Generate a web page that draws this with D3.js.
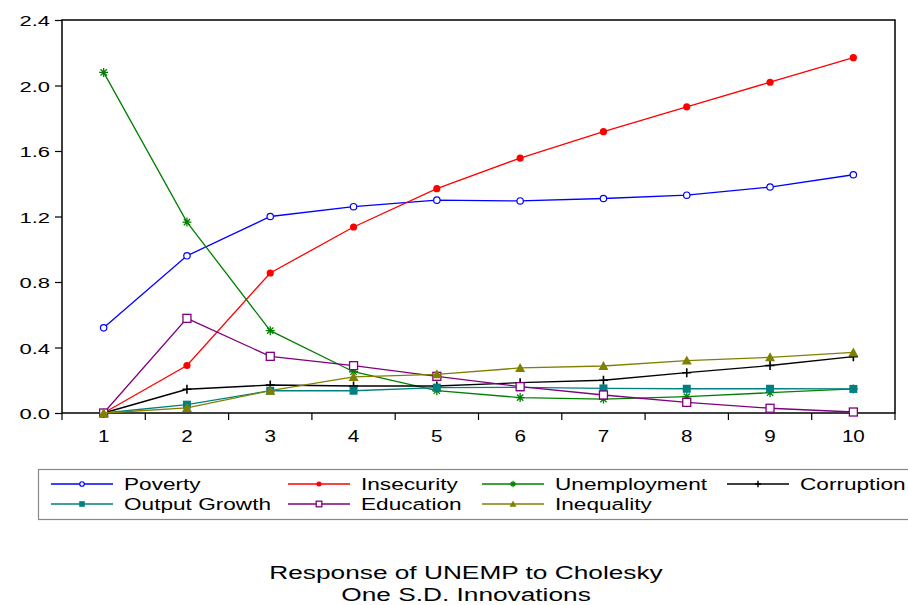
<!DOCTYPE html>
<html><head><meta charset="utf-8">
<script src="https://cdn.jsdelivr.net/npm/d3@7"></script>
<style>body{margin:0;background:#fff}svg{display:block}text{font-family:"Liberation Sans",Arial,sans-serif}</style>
</head><body><svg id="c" width="908" height="605"></svg>
<script>
const periods = [1,2,3,4,5,6,7,8,9,10];
const yTicks = [0,0.4,0.8,1.2,1.6,2.0,2.4];
const poverty      = [0.52,0.96,1.20,1.26,1.30,1.295,1.31,1.33,1.38,1.455];
const insecurity   = [0.0,0.29,0.855,1.136,1.37,1.557,1.718,1.87,2.02,2.17];
const unemployment = [2.08,1.166,0.503,0.252,0.136,0.094,0.085,0.10,0.124,0.147];
const corruption   = [0.0,0.145,0.171,0.165,0.165,0.185,0.20,0.246,0.29,0.344];
const outputGrowth = [0.0,0.051,0.136,0.136,0.155,0.157,0.15,0.148,0.148,0.147];
const education    = [0.0,0.578,0.346,0.289,0.224,0.161,0.11,0.065,0.029,0.006];
const inequality   = [0.0,0.031,0.136,0.22,0.236,0.275,0.287,0.32,0.34,0.37];
const titleLines = ["Response of UNEMP to Cholesky","One S.D. Innovations"];

const series = [
  {name:"Poverty", values:poverty, color:"#0000ff", marker:"circleOpen"},
  {name:"Insecurity", values:insecurity, color:"#ff0000", marker:"circleFill"},
  {name:"Unemployment", values:unemployment, color:"#008000", marker:"star"},
  {name:"Corruption", values:corruption, color:"#000000", marker:"plus"},
  {name:"Output Growth", values:outputGrowth, color:"#008080", marker:"squareFill"},
  {name:"Education", values:education, color:"#800080", marker:"squareOpen"},
  {name:"Inequality", values:inequality, color:"#808000", marker:"triangle"}
];

const svg = d3.select("#c");
const L=62, R=895, T=20, B=413;
const x = d3.scaleBand().domain(periods).range([L,R]);
const y = d3.scaleLinear().domain([0,2.4]).range([B,T]);
const cx = d => x(d)+x.bandwidth()/2;

// horizontally stretched text (reference glyphs are wide)
function stretch(sel, sx){
  sel.each(function(){
    const t=d3.select(this);
    const tx=+t.attr("x")||0, ty=+t.attr("y")||0;
    t.attr("x",0).attr("y",0).attr("transform",`translate(${tx},${ty}) scale(${sx},1)`);
  });
}

// frame
svg.append("rect").attr("x",L).attr("y",T).attr("width",R-L).attr("height",B-T)
  .attr("fill","none").attr("stroke","#000").attr("stroke-width",1.5);

// y axis
const yAx = svg.append("g").attr("transform",`translate(${L},0)`)
  .call(d3.axisLeft(y).tickValues(yTicks).tickFormat(d3.format(".1f")).tickSize(7).tickPadding(5));
yAx.select(".domain").remove();
yAx.selectAll("text").attr("font-size",15.5).attr("fill","#000").attr("dy","0.36em");
stretch(yAx.selectAll("text"),1.42);
yAx.selectAll("line").attr("stroke","#000").attr("stroke-width",1.2);

// x axis: ticks at band boundaries, labels at centers
const bounds = periods.map(p=>x(p)).concat([R]);
svg.append("g").selectAll("line").data(bounds).join("line")
  .attr("x1",d=>d).attr("x2",d=>d).attr("y1",B).attr("y2",B+7)
  .attr("stroke","#000").attr("stroke-width",1.2);
stretch(svg.append("g").selectAll("text").data(periods).join("text")
  .attr("x",d=>cx(d)).attr("y",B+29).attr("text-anchor","middle")
  .attr("font-size",16.5).text(d=>d), 1.25);

function drawMarker(g, type, color, px, py, s){
  switch(type){
    case "circleOpen": g.append("circle").attr("cx",px).attr("cy",py).attr("r",3.2*s).attr("fill","#fff").attr("stroke",color).attr("stroke-width",1.2); break;
    case "circleFill": g.append("circle").attr("cx",px).attr("cy",py).attr("r",3.6*s).attr("fill",color); break;
    case "star": {
      const r=4.5*s;
      const p = `M${px-r},${py}H${px+r}M${px},${py-r}V${py+r}M${px-r*0.7},${py-r*0.7}L${px+r*0.7},${py+r*0.7}M${px-r*0.7},${py+r*0.7}L${px+r*0.7},${py-r*0.7}`;
      g.append("path").attr("d",p).attr("stroke",color).attr("stroke-width",1.3*Math.min(1,s+0.2)).attr("fill","none"); break;}
    case "plus": {
      const r=4.5*s;
      g.append("path").attr("d",`M${px-r},${py}H${px+r}M${px},${py-r}V${py+r}`).attr("stroke",color).attr("stroke-width",1.6*Math.min(1,s+0.2)).attr("fill","none"); break;}
    case "squareFill": { const h=4*s; g.append("rect").attr("x",px-h).attr("y",py-h).attr("width",2*h).attr("height",2*h).attr("fill",color); break;}
    case "squareOpen": { const h=4*s; g.append("rect").attr("x",px-h).attr("y",py-h).attr("width",2*h).attr("height",2*h).attr("fill","#fff").attr("stroke",color).attr("stroke-width",1.3); break;}
    case "triangle": { const h=5*s; g.append("path").attr("d",`M${px},${py-h}L${px+h},${py+h*0.8}L${px-h},${py+h*0.8}Z`).attr("fill",color); break;}
  }
}

const line = d3.line().x((d,i)=>cx(periods[i])).y(d=>y(d));
series.forEach(s=>{
  const g = svg.append("g");
  g.append("path").datum(s.values).attr("d",line).attr("fill","none").attr("stroke",s.color).attr("stroke-width",1.3);
  s.values.forEach((v,i)=>drawMarker(g,s.marker,s.color,cx(periods[i]),y(v),1));
});

// legend
svg.append("rect").attr("x",38.5).attr("y",469.5).attr("width",880).attr("height",50)
  .attr("fill","none").attr("stroke","#888").attr("stroke-width",1.2);
const legPos = [[51,484],[288,484],[482,484],[727,484],[51,504],[288,504],[482,504]];
series.forEach((s,i)=>{
  const [lx,ly]=legPos[i];
  const g=svg.append("g");
  g.append("line").attr("x1",lx).attr("x2",lx+62).attr("y1",ly).attr("y2",ly).attr("stroke",s.color).attr("stroke-width",1.3);
  drawMarker(g,s.marker,s.color,lx+31,ly,0.7);
  stretch(g.append("text").attr("x",lx+73).attr("y",ly+6).attr("font-size",17).text(s.name),1.33);
});

// title
stretch(svg.append("g").selectAll("text").data(titleLines).join("text")
  .attr("x",466).attr("y",(d,i)=>579+i*22).attr("text-anchor","middle").attr("font-size",18.5).text(d=>d),1.42);
</script></body></html>
